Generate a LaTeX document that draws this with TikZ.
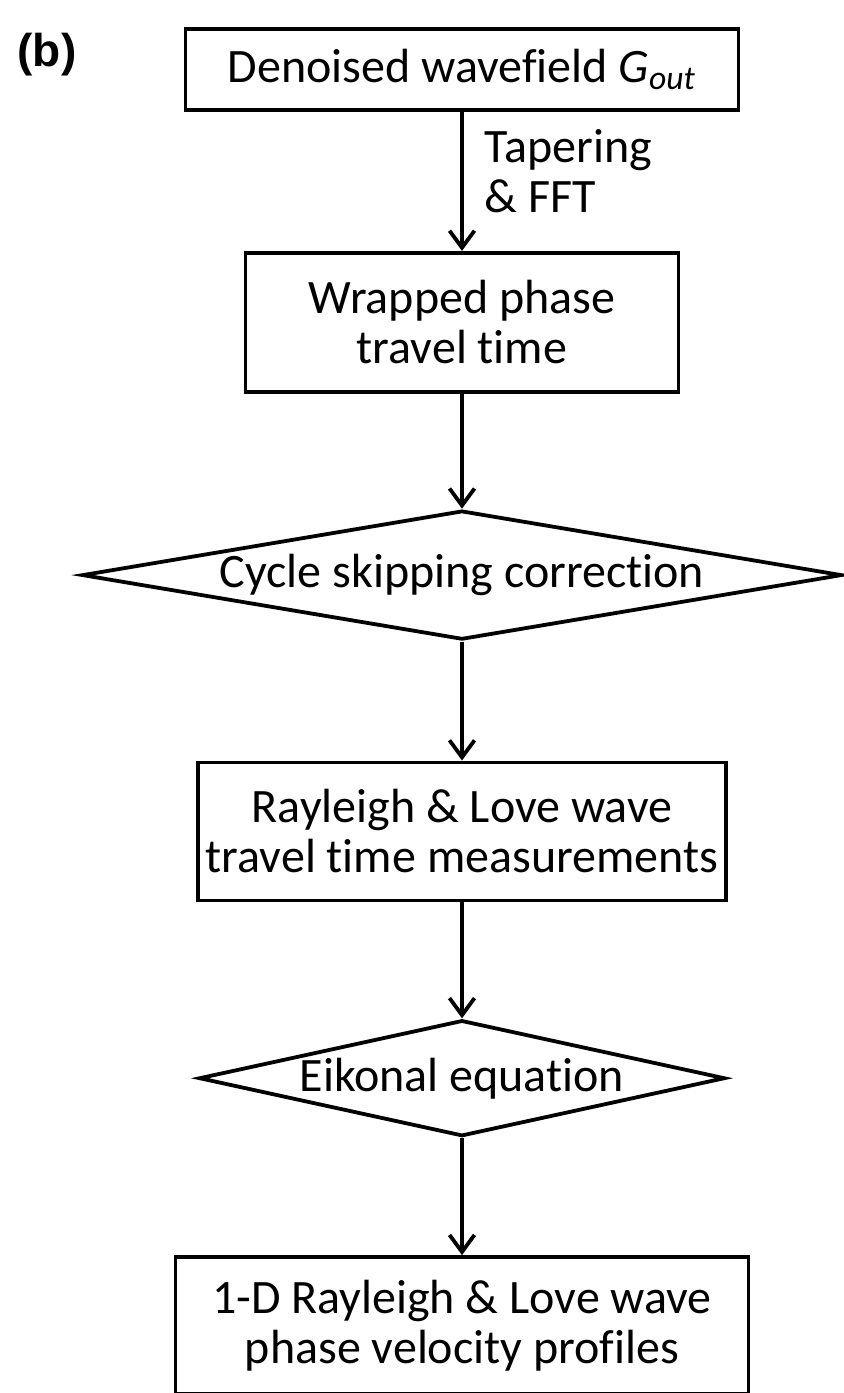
\documentclass[tikz,border=0pt]{standalone}
\usepackage{fontspec}
\setmainfont{Carlito}[Ligatures=NoCommon]
\newfontfamily\panelfont{Liberation Sans}
\usetikzlibrary{shapes.geometric,positioning,arrows.meta}

\begin{document}
\begin{tikzpicture}[box/.style={rectangle, draw, line width=1.9pt, align=center, inner sep=0pt},
  decision/.style={diamond, draw, line width=1.9pt, inner sep=0pt},
  flow/.style={line width=1.9pt, -{Straight Barb[length=8.5pt,width=12.5pt]}},
  font=\fontsize{24}{25}\selectfont]
  \useasboundingbox (0,0) rectangle (421.5pt,-696.5pt);
  \node[font=\panelfont\bfseries\fontsize{23}{25}\selectfont] (panel) at (23.5pt,-27.5pt) {(b)};
  \node[box, minimum width=276.5pt, minimum height=40.5pt] (denoised) at (231pt,-34.75pt) {Denoised wavefield \textit{G}\textsubscript{\textit{out}}};
  \node[box, minimum width=216.5pt, minimum height=69.5pt, below=69.5pt of denoised] (wrapped) {Wrapped phase\\travel time};
  \node[decision, minimum width=380pt, minimum height=64.5pt, below=57.5pt of wrapped] (cycle) {};
  \node (cycletext) at (cycle) {Cycle skipping correction};
  \node[box, minimum width=264pt, minimum height=69pt, below=59.5pt of cycle] (measure) {Rayleigh \& Love wave\\travel time measurements};
  \node[decision, minimum width=263pt, minimum height=58pt, below=58pt of measure] (eikonal) {};
  \node (eikonaltext) at (eikonal) {Eikonal equation};
  \node[box, minimum width=286.5pt, minimum height=68.5pt, below=58.5pt of eikonal] (profiles) {1-D Rayleigh \& Love wave\\phase velocity profiles};

  \draw[flow] (denoised) -- node[right=7pt, yshift=5pt, align=left] (taper) {Tapering\\\& FFT} (wrapped);
  \draw[flow] (wrapped) -- (cycle);
  \draw[flow] (cycle) -- (measure);
  \draw[flow] (measure) -- (eikonal);
  \draw[flow] (eikonal) -- (profiles);
\end{tikzpicture}
\end{document}
